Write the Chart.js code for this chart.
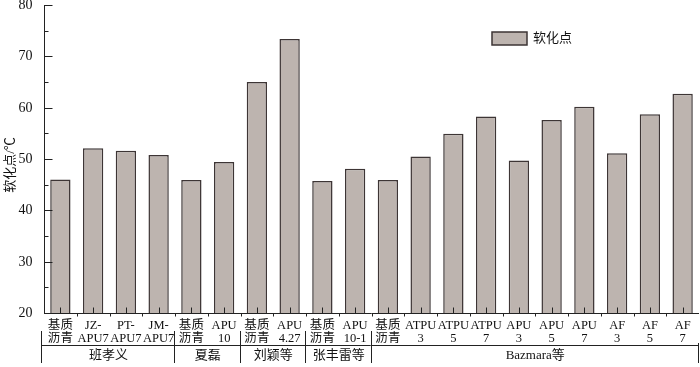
<!DOCTYPE html>
<html>
<head>
<meta charset="utf-8">
<script src="https://cdn.jsdelivr.net/npm/chart.js@4.4.1/dist/chart.umd.min.js"></script>
<style>
  html, body { margin: 0; padding: 0; background: #fff; }
  #wrap { width: 700px; height: 367px; }
</style>
</head>
<body>
<div id="wrap"><canvas id="chart"></canvas></div>
<script>
// category labels (two lines each)
const categories = [
    ['基质', '沥青'], ['JZ-', 'APU7'], ['PT-', 'APU7'], ['JM-', 'APU7'],
    ['基质', '沥青'], ['APU', '10'],
    ['基质', '沥青'], ['APU', '4.27'],
    ['基质', '沥青'], ['APU', '10-1'],
    ['基质', '沥青'], ['ATPU', '3'], ['ATPU', '5'], ['ATPU', '7'],
    ['APU', '3'], ['APU', '5'], ['APU', '7'], ['AF', '3'], ['AF', '5'], ['AF', '7']
];
const groupNames = ['班孝义', '夏磊', '刘颖等', '张丰雷等', 'Bazmara等'];
const groupSizes = [4, 2, 2, 2, 10];
const softening = [46.0, 52.1, 51.6, 50.8, 45.9, 49.4, 65.0, 73.4, 45.7, 48.1,
                   45.9, 50.5, 54.9, 58.3, 49.7, 57.6, 60.2, 51.1, 58.7, 62.7];
const yTicks = [20, 30, 40, 50, 60, 70, 80];
const yMinorTicks = [25, 35, 45, 55, 65, 75];

const FONT = "'Liberation Serif', 'Times New Roman', 'Noto Sans CJK SC', serif";
const BAR_FILL = '#bdb4af';
const BAR_EDGE = '#3d3535';

// draws axes, labels, groups and legend by hand (inward ticks etc.)
const axisPlugin = {
    id: 'axisPlugin',
    afterDatasetsDraw(chart) {
        const ctx = chart.ctx;
        const area = chart.chartArea;
        const xs = chart.scales.x;
        const ys = chart.scales.y;
        ctx.save();
        ctx.strokeStyle = '#222';
        ctx.fillStyle = '#111';
        ctx.lineWidth = 1;

        // y axis line
        const ax = Math.round(area.left) + 0.5;
        const ab = Math.round(area.bottom) + 0.5;
        ctx.beginPath();
        ctx.moveTo(ax, area.top);
        ctx.lineTo(ax, ab);
        ctx.stroke();

        // y ticks (inward)
        ctx.font = '14px ' + FONT;
        ctx.textAlign = 'right';
        ctx.textBaseline = 'middle';
        yTicks.forEach(v => {
            const y = Math.round(ys.getPixelForValue(v)) + 0.5;
            ctx.beginPath();
            ctx.moveTo(ax, y);
            ctx.lineTo(ax + 8, y);
            ctx.stroke();
            ctx.fillText(String(v), ax - 12, y);
        });
        yMinorTicks.forEach(v => {
            const y = Math.round(ys.getPixelForValue(v)) + 0.5;
            ctx.beginPath();
            ctx.moveTo(ax, y);
            ctx.lineTo(ax + 4, y);
            ctx.stroke();
        });

        // y title
        ctx.save();
        ctx.translate(11, (area.top + area.bottom) / 2 + 6);
        ctx.rotate(-Math.PI / 2);
        ctx.textAlign = 'center';
        ctx.textBaseline = 'middle';
        ctx.font = '13px ' + FONT;
        ctx.fillText('软化点/℃', 0, 0);
        ctx.restore();

        // x axis line
        ctx.beginPath();
        ctx.moveTo(area.left, ab);
        ctx.lineTo(area.right, ab);
        ctx.stroke();

        // x ticks: small marks up at bar centres, down at category edges
        const n = categories.length;
        const step = xs.getPixelForValue(1) - xs.getPixelForValue(0);
        for (let i = 0; i < n; i++) {
            const cx = Math.round(xs.getPixelForValue(i)) + 0.5;
            ctx.beginPath();
            ctx.moveTo(cx, ab);
            ctx.lineTo(cx, ab - 6);
            ctx.stroke();
            const ex = Math.round(xs.getPixelForValue(i) + step / 2) + 0.5;
            if (i < n - 1) {
                ctx.beginPath();
                ctx.moveTo(ex, ab);
                ctx.lineTo(ex, ab + 3);
                ctx.stroke();
            }
        }

        // category labels
        ctx.font = '12.5px ' + FONT;
        ctx.textAlign = 'center';
        ctx.textBaseline = 'middle';
        categories.forEach((lines, i) => {
            const cx = xs.getPixelForValue(i);
            ctx.fillText(lines[0], cx, ab + 12);
            ctx.fillText(lines[1], cx, ab + 25);
        });

        // group bracket
        const hy = 345.5;
        ctx.beginPath();
        ctx.moveTo(area.left - 2, hy);
        ctx.lineTo(area.right, hy);
        ctx.stroke();
        ctx.font = '13px ' + FONT;
        let start = 0;
        const edges = [area.left - 2];
        groupSizes.forEach((size, g) => {
            const end = start + size;
            const right = end >= n ? area.right : xs.getPixelForValue(end) - step / 2;
            edges.push(right);
            const left = edges[g];
            ctx.fillText(groupNames[g], (left + right) / 2, 356);
            start = end;
        });
        edges.forEach((x, k) => {
            const px = Math.round(x) - 0.5;
            ctx.beginPath();
            ctx.moveTo(px, k === edges.length - 1 ? 343 : 331);
            ctx.lineTo(px, 363);
            ctx.stroke();
        });

        // legend
        ctx.fillStyle = BAR_FILL;
        ctx.strokeStyle = BAR_EDGE;
        ctx.lineWidth = 1.5;
        ctx.fillRect(492, 32, 35, 13);
        ctx.strokeRect(492, 32, 35, 13);
        ctx.fillStyle = '#111';
        ctx.textAlign = 'left';
        ctx.font = '13px ' + FONT;
        ctx.fillText(chart.data.datasets[0].label, 533, 39);

        ctx.restore();
    }
};

new Chart(document.getElementById('chart'), {
    type: 'bar',
    data: {
        labels: categories,
        datasets: [{
            label: '软化点',
            data: softening,
            backgroundColor: BAR_FILL,
            borderColor: BAR_EDGE,
            borderWidth: { top: 1.5, left: 1.5, right: 1.5, bottom: 0 },
            borderSkipped: 'bottom',
            barPercentage: 0.62,
            categoryPercentage: 1.0
        }]
    },
    options: {
        responsive: true,
        maintainAspectRatio: false,
        animation: false,
        layout: { padding: { left: 44, right: 1, top: 5, bottom: 54 } },
        plugins: {
            legend: { display: false },
            tooltip: { enabled: false }
        },
        scales: {
            x: { display: false },
            y: { display: false, min: 20, max: 80 }
        }
    },
    plugins: [axisPlugin]
});
</script>
</body>
</html>
